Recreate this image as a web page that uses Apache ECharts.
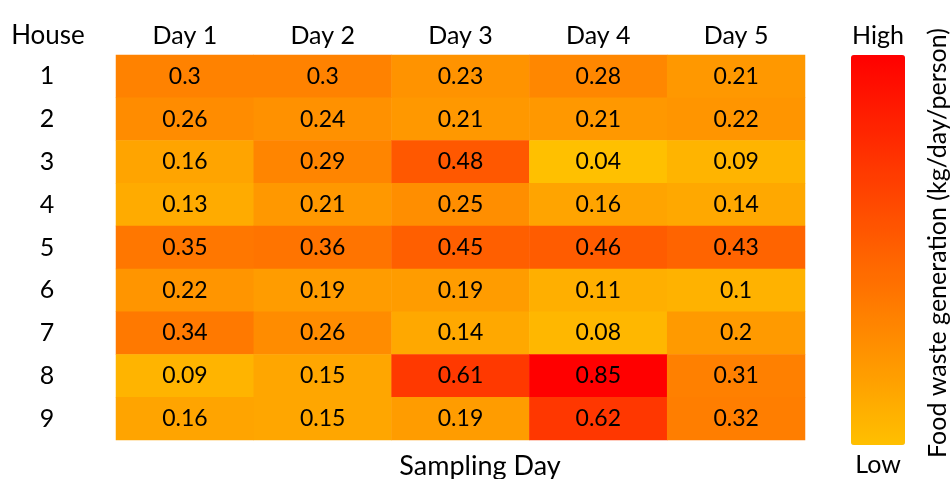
<!DOCTYPE html>
<html>
<head>
<meta charset="utf-8">
<script src="https://cdn.jsdelivr.net/npm/echarts@6/dist/echarts.min.js"></script>
<style>
html,body{margin:0;padding:0;background:#fff;}
#main{width:952px;height:479px;}
</style>
</head>
<body>
<div id="main"></div>
<script>
var days=['Day 1','Day 2','Day 3','Day 4','Day 5'];
var houses=['1','2','3','4','5','6','7','8','9'];
// one row per house, Day 1..Day 5
var house1=[0.3,0.3,0.23,0.28,0.21];
var house2=[0.26,0.24,0.21,0.21,0.22];
var house3=[0.16,0.29,0.48,0.04,0.09];
var house4=[0.13,0.21,0.25,0.16,0.14];
var house5=[0.35,0.36,0.45,0.46,0.43];
var house6=[0.22,0.19,0.19,0.11,0.1];
var house7=[0.34,0.26,0.14,0.08,0.2];
var house8=[0.09,0.15,0.61,0.85,0.31];
var house9=[0.16,0.15,0.19,0.62,0.32];
var rows=[house1,house2,house3,house4,house5,house6,house7,house8,house9];

var data=[];
for(var r=0;r<rows.length;r++){
	for(var c=0;c<days.length;c++){
		data.push([c,r,rows[r][c]]);
	}
}

var font='Lato';
var chart=echarts.init(document.getElementById('main'));
chart.setOption({
	backgroundColor:'#ffffff',
	textStyle:{fontFamily:font},
	grid:{left:116,right:147,top:55,bottom:39},
	xAxis:{
		type:'category',
		position:'top',
		data:days,
		axisLine:{show:false},
		axisTick:{show:false},
		splitLine:{show:false},
		axisLabel:{color:'#000',fontSize:25,fontFamily:font,margin:7}
	},
	yAxis:{
		type:'category',
		inverse:true,
		data:houses,
		axisLine:{show:false},
		axisTick:{show:false},
		axisLabel:{color:'#000',fontSize:25,fontFamily:font,align:'center',margin:69}
	},
	visualMap:{
		type:'continuous',
		min:0.04,
		max:0.85,
		calculable:false,
		orient:'vertical',
		left:836,
		top:8,
		itemWidth:54,
		itemHeight:390,
		text:['High','Low'],
		textGap:7,
		textStyle:{color:'#000',fontSize:25,fontFamily:font},
		inRange:{color:['#FFC000','#FF0000']}
	},
	graphic:[
		{type:'text',x:48,y:36,style:{text:'House',fill:'#000',fontSize:26,fontFamily:font,align:'center',verticalAlign:'middle'}},
		{type:'text',x:480,y:466,style:{text:'Sampling Day',fill:'#000',fontSize:27,fontFamily:font,align:'center',verticalAlign:'middle'}},
		{type:'text',x:938,y:243,rotation:Math.PI/2,style:{text:'Food waste generation (kg/day/person)',fill:'#000',fontSize:25,fontFamily:font,align:'center',verticalAlign:'middle'}}
	],
	series:[{
		type:'heatmap',
		data:data,
		label:{show:true,color:'#000',fontSize:23,fontFamily:font},
		itemStyle:{borderWidth:0}
	}]
});
</script>
</body>
</html>
